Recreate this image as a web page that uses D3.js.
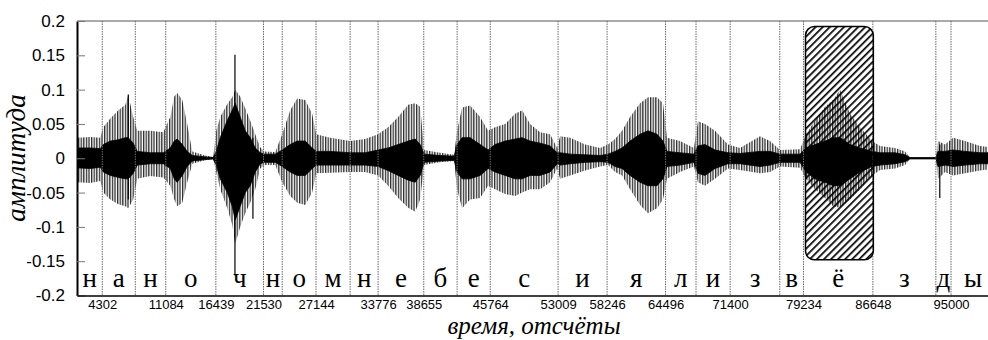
<!DOCTYPE html>
<html lang="ru">
<head>
<meta charset="utf-8">
<title>амплитуда</title>
<script src="https://cdn.jsdelivr.net/npm/d3@7/dist/d3.min.js"></script>
<style>
  body { margin: 0; background: #fff; }
  svg { display: block; }
</style>
</head>
<body>
<script>
// boundaries of the phoneme segments (samples) and letters between them
var bounds = [4302, 7830, 11084, 16439, 21530, 23530, 27144, 30790, 33776, 38655,
              42220, 45764, 53009, 58246, 64496, 67750, 71400, 76700, 79234, 86648,
              93380, 95000];
var letters = ["н","а","н","о","ч","н","о","м","н","е","б","е","с","и","я","л","и","з","в","ё","з","д","ы"];
var tickSamples = [4302, 11084, 16439, 21530, 27144, 33776, 38655, 45764, 53009, 58246,
                   64496, 71400, 79234, 86648, 95000];
var yTicks = [0.2, 0.15, 0.1, 0.05, 0, -0.05, -0.1, -0.15, -0.2];

// waveform envelope: outer peaks and dense core
var envT = [1600, 3020, 4090, 4410, 5160, 6020, 6770, 7080, 7610, 8040,
            9430, 10820, 11570, 11990, 12310, 12850, 13380, 13920, 15300, 16160,
            16480, 16910, 17660, 18190, 18510, 19040, 19580, 20110, 20650, 21180,
            21610, 22790, 23530, 24380, 25130, 25990, 26730, 27160, 28650, 30790,
            32390, 33780, 34850, 35920, 36990, 37740, 38270, 38700, 40410, 41900,
            42220, 42750, 43610, 44680, 45530, 46280, 47350, 48420, 49170, 50020,
            51090, 52160, 52910, 53230, 54300, 55900, 57500, 58350, 59100, 59850,
            60700, 61770, 62620, 63580, 64220, 64650, 66030, 67530, 67960, 68710,
            69780, 71170, 72450, 74590, 75660, 76730, 78870, 79510, 80470, 81540,
            82400, 83140, 84210, 85280, 86560, 87420, 89020, 90090, 90620, 93400,
            93610, 94360, 95220, 96500, 98110, 99700];
var envHi = [0.03, 0.031, 0.03, 0.045, 0.058, 0.07, 0.078, 0.092, 0.06, 0.04,
             0.04, 0.038, 0.06, 0.09, 0.095, 0.085, 0.05, 0.01, 0.004, 0.002,
             0.04, 0.06, 0.079, 0.089, 0.1, 0.09, 0.073, 0.055, 0.035, 0.016,
             0.01, 0.009, 0.035, 0.07, 0.087, 0.085, 0.065, 0.035, 0.03, 0.025,
             0.028, 0.035, 0.045, 0.06, 0.078, 0.08, 0.075, 0.012, 0.008, 0.005,
             0.04, 0.074, 0.077, 0.06, 0.04, 0.045, 0.05, 0.065, 0.07, 0.05,
             0.038, 0.035, 0.015, 0.032, 0.03, 0.02, 0.015, 0.02, 0.028, 0.04,
             0.06, 0.08, 0.089, 0.089, 0.08, 0.03, 0.025, 0.015, 0.054, 0.05,
             0.04, 0.02, 0.015, 0.032, 0.025, 0.012, 0.013, 0.035, 0.055, 0.075,
             0.085, 0.1, 0.065, 0.045, 0.025, 0.018, 0.015, 0.01, 0.001, 0.001,
             0.025, 0.02, 0.03, 0.025, 0.018, 0.015];
var envLo = [-0.035, -0.036, -0.033, -0.05, -0.06, -0.067, -0.07, -0.073, -0.06, -0.03,
             -0.026, -0.028, -0.04, -0.06, -0.07, -0.065, -0.035, -0.008, -0.003, -0.001,
             -0.02, -0.045, -0.073, -0.097, -0.125, -0.1, -0.08, -0.065, -0.045, -0.015,
             -0.01, -0.01, -0.035, -0.055, -0.065, -0.068, -0.05, -0.022, -0.021, -0.02,
             -0.02, -0.025, -0.04, -0.058, -0.072, -0.078, -0.06, -0.01, -0.006, -0.004,
             -0.045, -0.073, -0.06, -0.058, -0.04, -0.045, -0.052, -0.055, -0.05, -0.045,
             -0.045, -0.035, -0.015, -0.03, -0.025, -0.018, -0.012, -0.01, -0.02, -0.025,
             -0.045, -0.068, -0.08, -0.073, -0.06, -0.03, -0.02, -0.012, -0.035, -0.04,
             -0.03, -0.015, -0.017, -0.022, -0.02, -0.012, -0.014, -0.03, -0.045, -0.058,
             -0.07, -0.072, -0.06, -0.045, -0.025, -0.017, -0.015, -0.01, -0.001, -0.001,
             -0.03, -0.02, -0.025, -0.022, -0.018, -0.015];
var coreHi = [0.015, 0.015, 0.014, 0.02, 0.025, 0.027, 0.03, 0.03, 0.022, 0.01,
              0.008, 0.008, 0.015, 0.025, 0.028, 0.02, 0.01, 0.004, 0.002, 0.001,
              0.01, 0.03, 0.055, 0.07, 0.08, 0.06, 0.04, 0.03, 0.015, 0.008,
              0.006, 0.006, 0.012, 0.02, 0.025, 0.025, 0.015, 0.01, 0.01, 0.008,
              0.008, 0.012, 0.015, 0.02, 0.025, 0.028, 0.02, 0.006, 0.004, 0.003,
              0.02, 0.03, 0.03, 0.02, 0.012, 0.02, 0.025, 0.028, 0.03, 0.025,
              0.022, 0.018, 0.008, 0.008, 0.006, 0.005, 0.004, 0.006, 0.01, 0.015,
              0.025, 0.035, 0.04, 0.035, 0.025, 0.01, 0.008, 0.006, 0.018, 0.02,
              0.012, 0.008, 0.007, 0.01, 0.01, 0.006, 0.006, 0.015, 0.02, 0.025,
              0.03, 0.03, 0.02, 0.015, 0.01, 0.008, 0.008, 0.005, 0.001, 0.001,
              0.01, 0.01, 0.012, 0.01, 0.008, 0.008];
var coreLo = [-0.014, -0.015, -0.013, -0.02, -0.025, -0.028, -0.03, -0.03, -0.022, -0.01,
              -0.008, -0.008, -0.015, -0.03, -0.035, -0.025, -0.012, -0.004, -0.002, -0.001,
              -0.01, -0.03, -0.05, -0.07, -0.09, -0.07, -0.05, -0.04, -0.02, -0.008,
              -0.006, -0.006, -0.012, -0.02, -0.025, -0.025, -0.015, -0.01, -0.01, -0.01,
              -0.01, -0.012, -0.018, -0.025, -0.032, -0.035, -0.025, -0.006, -0.004, -0.003,
              -0.02, -0.03, -0.03, -0.025, -0.015, -0.02, -0.025, -0.03, -0.03, -0.025,
              -0.025, -0.02, -0.008, -0.01, -0.008, -0.006, -0.005, -0.006, -0.012, -0.015,
              -0.025, -0.035, -0.04, -0.04, -0.03, -0.012, -0.01, -0.006, -0.022, -0.025,
              -0.015, -0.008, -0.008, -0.012, -0.01, -0.006, -0.006, -0.02, -0.03, -0.035,
              -0.04, -0.04, -0.03, -0.02, -0.012, -0.01, -0.008, -0.005, -0.001, -0.001,
              -0.012, -0.01, -0.012, -0.01, -0.008, -0.008];
// single tall strokes
var spikeT = [7080, 18480, 20400, 93800];
var spikeHi = [0.093, 0.151, 0.03, 0.02];
var spikeLo = [-0.06, -0.171, -0.088, -0.058];

// hatched highlight of the "ё" segment
var boxStart = 79450, boxEnd = 86700, boxTop = 0.192, boxBottom = -0.148;

var width = 988, height = 340;
var plotL = 77, plotT = 21, plotB = 295.5, plotR = 995;

var x = d3.scaleLinear().domain([1600, 99700]).range([plotL, plotR]);
var y = d3.scaleLinear().domain([-0.2, 0.2]).range([plotB, plotT]);

var svg = d3.select("body").append("svg")
    .attr("width", width)
    .attr("height", height);

var defs = svg.append("defs");
defs.append("clipPath").attr("id", "clip")
  .append("rect")
    .attr("x", plotL).attr("y", plotT)
    .attr("width", plotR - plotL).attr("height", plotB - plotT);

defs.append("pattern")
    .attr("id", "stripes")
    .attr("patternUnits", "userSpaceOnUse")
    .attr("width", 2.6).attr("height", 10)
  .append("rect")
    .attr("width", 1.3).attr("height", 10)
    .attr("fill", "#2a2a2a");

defs.append("pattern")
    .attr("id", "hatch")
    .attr("patternUnits", "userSpaceOnUse")
    .attr("width", 5).attr("height", 5)
    .attr("patternTransform", "rotate(45)")
  .append("rect")
    .attr("width", 1.7).attr("height", 5)
    .attr("fill", "#000");

var idx = d3.range(envT.length);

var wave = svg.append("g").attr("clip-path", "url(#clip)");

wave.append("path")
    .datum(idx)
    .attr("fill", "url(#stripes)")
    .attr("d", d3.area()
        .x(function(i) { return x(envT[i]); })
        .y0(function(i) { return y(envLo[i]); })
        .y1(function(i) { return y(envHi[i]); }));

wave.append("path")
    .datum(idx)
    .attr("fill", "#000")
    .attr("stroke", "#000")
    .attr("stroke-width", 0.8)
    .attr("d", d3.area()
        .x(function(i) { return x(envT[i]); })
        .y0(function(i) { return y(coreLo[i]); })
        .y1(function(i) { return y(coreHi[i]); }));

wave.selectAll("line.spike")
    .data(spikeT)
    .enter().append("line")
    .attr("class", "spike")
    .attr("x1", function(d) { return x(d); })
    .attr("x2", function(d) { return x(d); })
    .attr("y1", function(d, i) { return y(spikeHi[i]); })
    .attr("y2", function(d, i) { return y(spikeLo[i]); })
    .attr("stroke", "#000")
    .attr("stroke-width", 1.2);

// segment boundaries
svg.selectAll("line.bound")
    .data(bounds)
    .enter().append("line")
    .attr("class", "bound")
    .attr("x1", function(d) { return x(d); })
    .attr("x2", function(d) { return x(d); })
    .attr("y1", plotT)
    .attr("y2", plotB)
    .attr("stroke", "#6a6a6a")
    .attr("stroke-width", 1)
    .attr("stroke-dasharray", "1.5,1");

// hatched box
svg.append("rect")
    .attr("x", x(boxStart))
    .attr("y", y(boxTop))
    .attr("width", x(boxEnd) - x(boxStart))
    .attr("height", y(boxBottom) - y(boxTop))
    .attr("rx", 9).attr("ry", 9)
    .attr("fill", "url(#hatch)")
    .attr("stroke", "#000")
    .attr("stroke-width", 1.5);

// letters
var edges = [x.domain()[0]].concat(bounds, [x.domain()[1]]);
svg.selectAll("text.letter")
    .data(letters)
    .enter().append("text")
    .attr("class", "letter")
    .attr("x", function(d, i) { return (x(edges[i]) + x(edges[i + 1])) / 2; })
    .attr("y", 287)
    .attr("text-anchor", "middle")
    .attr("font-family", "Liberation Serif, Times New Roman, serif")
    .attr("font-size", 27)
    .text(function(d) { return d; });

// top frame line
svg.append("line")
    .attr("x1", plotL).attr("x2", width)
    .attr("y1", plotT).attr("y2", plotT)
    .attr("stroke", "#555").attr("stroke-width", 1);

// axes
var yAxis = svg.append("g")
    .attr("transform", "translate(" + plotL + ",0)")
    .call(d3.axisLeft(y)
        .tickValues(yTicks)
        .tickSizeInner(-8)
        .tickSizeOuter(0)
        .tickPadding(12)
        .tickFormat(function(d) { return String(d); }));
yAxis.select(".domain").attr("stroke", "#000").attr("stroke-width", 2);
yAxis.selectAll(".tick line").attr("stroke", "#777");
yAxis.selectAll("text")
    .attr("font-family", "Liberation Sans, Arial, sans-serif")
    .attr("font-size", 17)
    .attr("fill", "#000");

var xAxis = svg.append("g")
    .attr("transform", "translate(0," + plotB + ")")
    .call(d3.axisBottom(x)
        .tickValues(tickSamples)
        .tickSize(0)
        .tickPadding(4)
        .tickFormat(function(d) { return d; }));
xAxis.select(".domain").attr("stroke", "#000").attr("stroke-width", 1.6);
xAxis.selectAll("text")
    .attr("font-family", "Liberation Sans, Arial, sans-serif")
    .attr("font-size", 13)
    .attr("fill", "#000");

// axis titles
svg.append("text")
    .attr("transform", "translate(25,158) rotate(-90)")
    .attr("text-anchor", "middle")
    .attr("font-family", "Liberation Serif, Times New Roman, serif")
    .attr("font-style", "italic")
    .attr("font-size", 27)
    .text("амплитуда");

svg.append("text")
    .attr("x", 534)
    .attr("y", 334)
    .attr("text-anchor", "middle")
    .attr("font-family", "Liberation Serif, Times New Roman, serif")
    .attr("font-style", "italic")
    .attr("font-size", 25)
    .text("время, отсчёты");
</script>
</body>
</html>
